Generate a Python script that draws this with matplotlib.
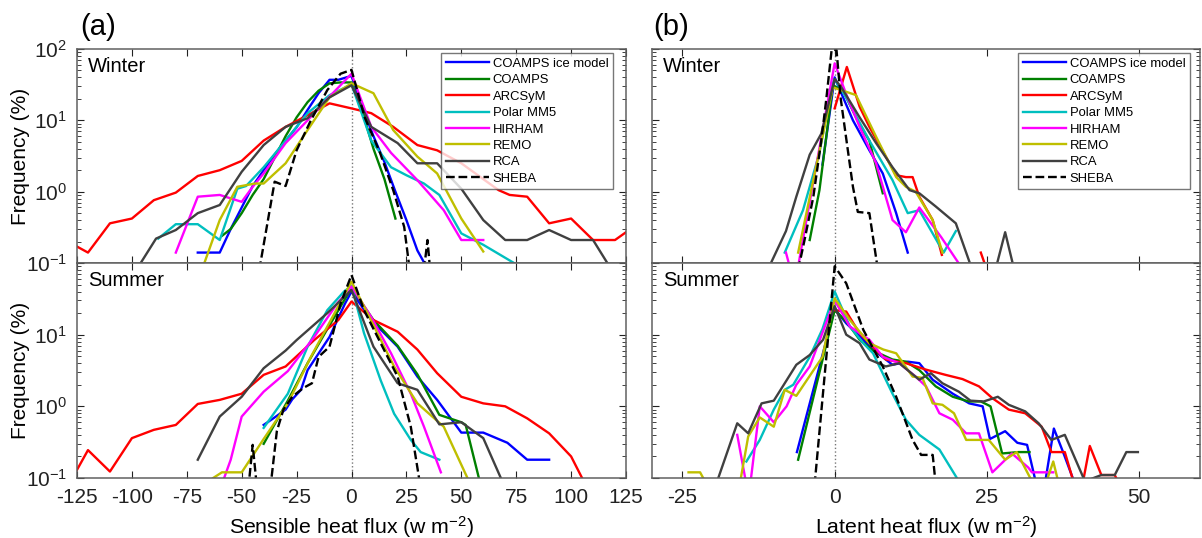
import numpy as np
import matplotlib
matplotlib.use('Agg')
import matplotlib.pyplot as plt

plt.rcParams['font.family'] = ['Liberation Sans', 'DejaVu Sans']
plt.rcParams['mathtext.fontset'] = 'custom'
plt.rcParams['mathtext.rm'] = 'Liberation Sans'
plt.rcParams['mathtext.it'] = 'Liberation Sans:italic'
plt.rcParams['axes.unicode_minus'] = False

nan = np.nan

models = ['COAMPS ice model', 'COAMPS', 'ARCSyM', 'Polar MM5', 'HIRHAM', 'REMO', 'RCA', 'SHEBA']
colors = ['#0000ff', '#008000', '#ff0000', '#00bfbf', '#ff00ff', '#bfbf00', '#404040', 'black']

# frequency distributions (%), x in W m-2
sens_winter = {
    'COAMPS ice model': ([-70, -60, -55, -50, -45, -40, -35, -30, -25, -20, -15, -10, -6, 0, 5, 10, 15, 20, 25, 30, 34],
                         [0.14, 0.14, 0.3, 0.6, 1.2, 2.0, 3.3, 5.2, 8, 14, 24, 37, 37, 42, 15, 6, 2.6, 1.0, 0.4, 0.15, 0.09]),
    'COAMPS': ([-59, -55, -50, -45, -40, -35, -30, -25, -20, -15, -10, -5, 0, 5, 10, 15, 20],
               [0.24, 0.3, 0.5, 0.9, 1.5, 3, 6, 11, 18, 26, 33, 34, 34, 13, 4, 1.5, 0.42]),
    'ARCSyM': ([-125, -120, -110, -100, -90, -80, -70, -60, -50, -40, -30, -20, -10, 0, 9, 19, 30, 39, 50, 60,
                67, 72, 80, 90, 100, 110, 120, 125],
               [0.17, 0.14, 0.36, 0.42, 0.76, 0.97, 1.66, 2.0, 2.7, 5.2, 8.1, 11.8, 17.3, 14.7, 12.6, 8.1, 4.5, 3.8,
                2.5, 1.5, 1.05, 0.9, 0.85, 0.36, 0.42, 0.21, 0.21, 0.27]),
    'Polar MM5': ([-88, -80, -70, -60, -52, -48, -40, -30, -20, -10, 0, 9, 18, 25, 33, 40, 50, 60, 74],
                  [0.22, 0.35, 0.35, 0.21, 1.1, 1.2, 2.2, 5.2, 12.6, 22.5, 32, 5.2, 2.2, 1.7, 1.3, 0.9, 0.26, 0.18, 0.1]),
    'HIRHAM': ([-80, -70, -60, -50, -45, -40, -30, -20, -10, 0, 9, 18, 30, 42, 50, 60],
               [0.14, 0.85, 0.9, 0.72, 1.17, 1.8, 4.8, 10, 21.5, 45, 8.1, 3.5, 1.45, 0.55, 0.21, 0.21]),
    'REMO': ([-67, -60, -52, -44, -40, -30, -20, -10, 0, 10, 19, 30, 39, 50, 60],
             [0.1, 0.4, 1.17, 1.3, 1.3, 2.5, 7.3, 21, 33, 24, 7.3, 3.1, 1.8, 0.42, 0.145]),
    'RCA': ([-96, -89, -80, -70, -60, -50, -40, -30, -20, -10, 0, 9, 21, 30, 39, 50, 60, 70, 80, 90, 100, 110, 116.5],
            [0.1, 0.22, 0.29, 0.5, 0.65, 1.9, 4.5, 8.1, 10.7, 21, 31, 8.1, 4.8, 2.5, 2.5, 1.1, 0.4, 0.21, 0.21, 0.29,
             0.21, 0.21, 0.1]),
    'SHEBA': ([-42, -35, -30, -25, -18.5, -11, -5, 0, 6, 13, 19, 24, 26.5, nan, 33, 34.6, 35.8],
              [0.08, 1.38, 1.2, 3.8, 10, 26.6, 45, 51, 11, 3.5, 1.05, 0.32, 0.08, nan, 0.08, 0.21, 0.08]),
}

sens_summer = {
    'COAMPS ice model': ([-40, -35, -30, -27, -23, -20, -10, -3, 0, 9, 21, 30, 39, 50, 60, 71, 80, 90],
                         [0.55, 0.7, 0.9, 1.25, 1.7, 3.2, 9.3, 27, 40, 16, 6.8, 2.6, 1.23, 0.43, 0.43, 0.31, 0.18, 0.18]),
    'COAMPS': ([-40, -29, -20, -11, 0, 10, 21, 30, 40, 50, 52, 58],
               [0.3, 1.2, 4, 12, 45, 16, 7, 2.8, 0.76, 0.6, 0.55, 0.1]),
    'ARCSyM': ([-125, -120, -110, -100, -90, -80, -70, -60, -50, -40, -30, -17, -6, 0, 10, 21, 30, 39, 50, 60,
                70, 80, 90, 100, 105],
               [0.13, 0.245, 0.123, 0.36, 0.47, 0.55, 1.08, 1.23, 1.5, 2.75, 3.6, 8.4, 16, 29, 16, 11, 6.2, 2.9,
                1.36, 1.1, 1.0, 0.68, 0.42, 0.2, 0.1]),
    'Polar MM5': ([-40, -29, -20, -11, -3.4, 0, 5.7, 13.3, 19.4, 27, 31.5, 40],
                  [0.5, 1.5, 6.8, 22, 40, 48, 10.5, 2.3, 0.79, 0.34, 0.23, 0.18]),
    'HIRHAM': ([-58, -55, -50, -40, -29, -17, -6.4, 0, 8.8, 18, 27, 33, 40.7],
               [0.1, 0.18, 0.72, 1.6, 3.1, 9.3, 27.5, 47, 18, 5.5, 1.5, 0.52, 0.12]),
    'REMO': ([-63, -59, -50, -40, -29, -18.5, -9.4, 0, 10.3, 19.4, 30, 42, 52.8],
             [0.1, 0.12, 0.12, 0.35, 1.1, 4.9, 16, 55, 13, 3.6, 1.1, 0.52, 0.1]),
    'RCA': ([-70, -60, -50, -40, -30, -25, -11, 0, 10, 21, 30, 40, 50, 60, 68],
            [0.18, 0.72, 1.36, 3.4, 6, 8.4, 20, 42, 6.8, 2.1, 1.7, 0.56, 0.6, 0.36, 0.1]),
    'SHEBA': ([-47, -45, -43, nan, -37, -34, -31, -27, -22, -18, -15, -10, -5, 0, 5.7, 13.3, 21, 27, 31],
              [0.07, 0.29, 0.07, nan, 0.07, 0.45, 0.9, 1.36, 1.8, 2.1, 4.9, 6.8, 27, 68, 22, 7.6, 2.6, 0.52, 0.09]),
}

lat_winter = {
    'COAMPS ice model': ([-2, 0, 1, 3, 5.7, 7.9, 10.1, 12],
                         [2.4, 40, 25, 10, 3.8, 1.8, 0.5, 0.14]),
    'COAMPS': ([-4.1, -2.5, -0.3, 1.4, 4, 5.7, 7.9],
               [0.21, 1.05, 31, 26, 9, 5.2, 0.95]),
    'ARCSyM': ([0, 2, 4.1, 5.7, 8.4, 10.1, 11.7, 12.8, 13.9, 16.1, 17.6, nan, 24, 25],
               [14.7, 56, 15.5, 8.1, 3.1, 1.7, 1.6, 1.6, 0.85, 0.4, 0.13, nan, 0.14, 0.08]),
    'Polar MM5': ([-8.2, -5.2, -2.5, -0.5, 0, 2, 5.7, 9.5, 12, 13.9, 17.9, 19.9],
                  [0.14, 0.55, 3.5, 30, 38, 20, 5.2, 1.45, 0.5, 0.55, 0.14, 0.28]),
    'HIRHAM': ([-8, -7.4, nan, -6, 0, 2, 4.1, 6.8, 9.5, 11.7, 13.9, 17.5, 20.7],
               [0.14, 0.09, nan, 0.09, 63, 22, 8.1, 2.5, 0.4, 0.27, 0.6, 0.23, 0.09]),
    'REMO': ([-6, -0.3, 3.5, 6.8, 10.1, 11.7, 13.3, 16.1, 17.7],
             [0.14, 29, 22.6, 5.9, 1.6, 1.17, 1.0, 0.4, 0.14]),
    'RCA': ([-11, -8, -6.3, -4.1, -2.2, 0, 1.1, 4.1, 6.8, 9.5, 12.3, 13.9, 16.6, 19.9, 22.6, nan, 26.4, 28, 29.5],
            [0.08, 0.28, 0.85, 3.3, 6.5, 38, 29, 11, 4.8, 2.2, 1.05, 0.95, 0.62, 0.36, 0.08, nan, 0.08, 0.27, 0.08]),
    'SHEBA': ([-6, -5, -3.5, -2.2, -1.4, -0.5, 0.3, 1, 2, 3, 3.8, 5.7, 7.1],
              [0.08, 0.2, 0.85, 5.2, 19, 97, 97, 20, 4.8, 1.17, 0.52, 0.5, 0.08]),
}

lat_summer = {
    'COAMPS ice model': ([-6.2, 0, 1.9, 4.7, 6.3, 9.5, 12, 13.9, 16.1, 19.4, 22.1, 24.3, 25.5, 28, 30, 31.6, 33,
                          nan, 34.6, 36, 37.6, 39.3],
                         [0.23, 23, 14.4, 8.5, 6.2, 3.8, 4.2, 4.0, 2.35, 1.5, 1.1, 1.0, 0.35, 0.45, 0.31, 0.29, 0.09,
                          nan, 0.09, 0.49, 0.22, 0.09]),
    'COAMPS': ([-6, 0, 2, 4.1, 6.3, 9.5, 11.7, 13.9, 16.6, 19.4, 22, 24, 25.6, 27.5, 30.2, 32],
               [0.18, 22, 15, 8.5, 6, 4.5, 4.2, 3.2, 1.9, 1.36, 1.17, 1.17, 1.0, 0.22, 0.23, 0.23]),
    'ARCSyM': ([0, 1.9, 4.1, 8.4, 11.7, 15, 18.2, 21, 23.7, 25.9, 28.6, 31.3, 34, 35.6, 37.8, 39.2,
                nan, 40.8, 41.9, 43.8, 46, 46.5],
               [22, 21, 10.4, 4.5, 4.0, 3.25, 2.75, 2.4, 1.9, 1.3, 0.9, 0.8, 0.52, 0.23, 0.23, 0.09,
                nan, 0.09, 0.28, 0.11, 0.11, 0.09]),
    'Polar MM5': ([-14.5, -12.3, -10, -8.2, -6.8, -4.1, -2, 0, 2.5, 4.7, 6.3, 9.5, 11.7, 13.9, 17.2, 20.4],
                  [0.17, 0.34, 0.9, 1.7, 2.0, 4.9, 12, 40, 13, 7.6, 5.5, 1.5, 0.65, 0.4, 0.25, 0.09]),
    'HIRHAM': ([-16, -14.6, nan, -13.8, -12.3, -10, -7.9, -6.3, -4.1, 0, 2.5, 5.7, 7.9, 10.6, 13.3, 15, 17.2, 19.4,
                21.6, 23.7, 25.9, 29.1, 31.8, 32.4, 35.9],
               [0.4, 0.09, nan, 0.09, 1.0, 0.6, 1.0, 2.0, 3.6, 30, 13, 8.5, 4.9, 4.0, 2.6, 1.9, 0.8, 0.65,
                0.42, 0.42, 0.12, 0.22, 0.14, 0.12, 0.12]),
    'REMO': ([-24, -22.1, -21.3, nan, -15.5, -14.2, -12.3, -10, -8.2, -6.3, -2, 0, 2.5, 5.7, 8, 10.1, 12.8, 14.4,
              16.1, 17.7, 19.6, 21.6, 25.3, 28, 29.9, 32.4, nan, 34.8, 35.9, 36.7],
             [0.12, 0.12, 0.09, nan, 0.09, 0.38, 0.7, 0.52, 1.7, 1.4, 4.9, 32, 16, 7.6, 6.2, 5.5, 2.6, 2.5,
              1.1, 1.05, 0.8, 0.34, 0.34, 0.18, 0.23, 0.09, nan, 0.09, 0.17, 0.09]),
    'RCA': ([-19.3, -16, -14.2, -12, -10, -8.2, -6.3, -4.1, -1.9, 0, 1.9, 4.1, 5.7, 8.4, 10.6, 13.9, 15.8, 17.7,
             20.4, 22.3, 24.5, 26.8, 28.6, 31.3, 33.5, 35.6, 37.8, 41.1, 43.8, 46, 47.9, 49.8],
            [0.09, 0.58, 0.42, 1.1, 1.2, 2.1, 3.8, 5.2, 8.5, 25, 10, 7.6, 4.5, 3.6, 4.0, 2.35, 2.9, 2.1,
             1.6, 1.2, 1.17, 1.36, 1.05, 0.85, 0.58, 0.34, 0.4, 0.09, 0.11, 0.11, 0.23, 0.23]),
    'SHEBA': ([-3.3, 0, 1.9, 4.7, 7.9, 10.1, 12.8, 14.2, 16.1, 16.6],
              [0.08, 90, 52, 11.7, 3.6, 1.36, 0.34, 0.21, 0.21, 0.08]),
}

fig = plt.figure(figsize=(12.02, 5.38), dpi=100)
W, H = 1202.0, 538.0
ax_sw = fig.add_axes([77 / W, 1 - 263 / H, 549 / W, 214 / H])
ax_ss = fig.add_axes([77 / W, 1 - 478 / H, 549 / W, 215 / H])
ax_lw = fig.add_axes([652 / W, 1 - 263 / H, 548 / W, 214 / H])
ax_ls = fig.add_axes([652 / W, 1 - 478 / H, 548 / W, 215 / H])

panels = [(ax_sw, sens_winter, 'Winter'), (ax_ss, sens_summer, 'Summer'),
          (ax_lw, lat_winter, 'Winter'), (ax_ls, lat_summer, 'Summer')]

for ax, data, season in panels:
    ax.axvline(0, color='#777777', ls=':', lw=1, zorder=0)
    for name, col in zip(models, colors):
        x, y = data[name]
        ls = '--' if name == 'SHEBA' else '-'
        ax.plot(x, y, color=col, ls=ls, lw=1.7, label=name)
    ax.set_yscale('log')
    ax.set_ylim(0.1, 100)
    ax.tick_params(which='both', direction='in', top=True, right=True, labelsize=15, colors='#222222')
    ax.tick_params(which='major', length=5, pad=7)
    ax.tick_params(which='minor', length=3)
    for sp in ax.spines.values():
        sp.set_color('#606060')
        sp.set_linewidth(1.1)
    ax.text(0.02, 0.92, season, transform=ax.transAxes, fontsize=14.5, va='center', ha='left')

# sensible heat flux axes
for ax in (ax_sw, ax_ss):
    ax.set_xlim(-125, 125)
    ax.set_xticks(np.arange(-125, 126, 25))
    ax.set_ylabel('Frequency (%)', fontsize=15, labelpad=-3)
ax_sw.set_yticks([0.1, 1, 10, 100])
ax_sw.set_yticklabels(['10$^{-1}$', '10$^{0}$', '10$^{1}$', '10$^{2}$'])
ax_ss.set_yticks([0.1, 1, 10, 100])
ax_ss.set_yticklabels(['10$^{-1}$', '10$^{0}$', '10$^{1}$', ''])
ax_sw.tick_params(axis='x', labelbottom=False)
ax_ss.set_xlabel('Sensible heat flux (w m$^{-2}$)', fontsize=15.3, labelpad=5)

# latent heat flux axes
for ax in (ax_lw, ax_ls):
    ax.set_xlim(-30, 60)
    ax.set_xticks([-25, 0, 25, 50])
    ax.tick_params(axis='y', which='both', labelleft=False)
ax_lw.tick_params(axis='x', labelbottom=False)
ax_ls.set_xlabel('Latent heat flux (w m$^{-2}$)', fontsize=15.3, labelpad=5)

for ax, xa in ((ax_sw, 0.976), (ax_lw, 0.982)):
    leg = ax.legend(loc='upper right', bbox_to_anchor=(xa, 0.981), borderaxespad=0, fontsize=9.4,
                    frameon=True, fancybox=False, edgecolor='#555555', handlelength=3.3,
                    handletextpad=0.3, labelspacing=0.33, borderpad=0.35)
    leg.get_frame().set_linewidth(1.0)

fig.text(80 / W, 1 - 27 / H, '(a)', fontsize=21, va='center', ha='left')
fig.text(653 / W, 1 - 27 / H, '(b)', fontsize=21, va='center', ha='left')

fig.savefig('out.png', dpi=100)
